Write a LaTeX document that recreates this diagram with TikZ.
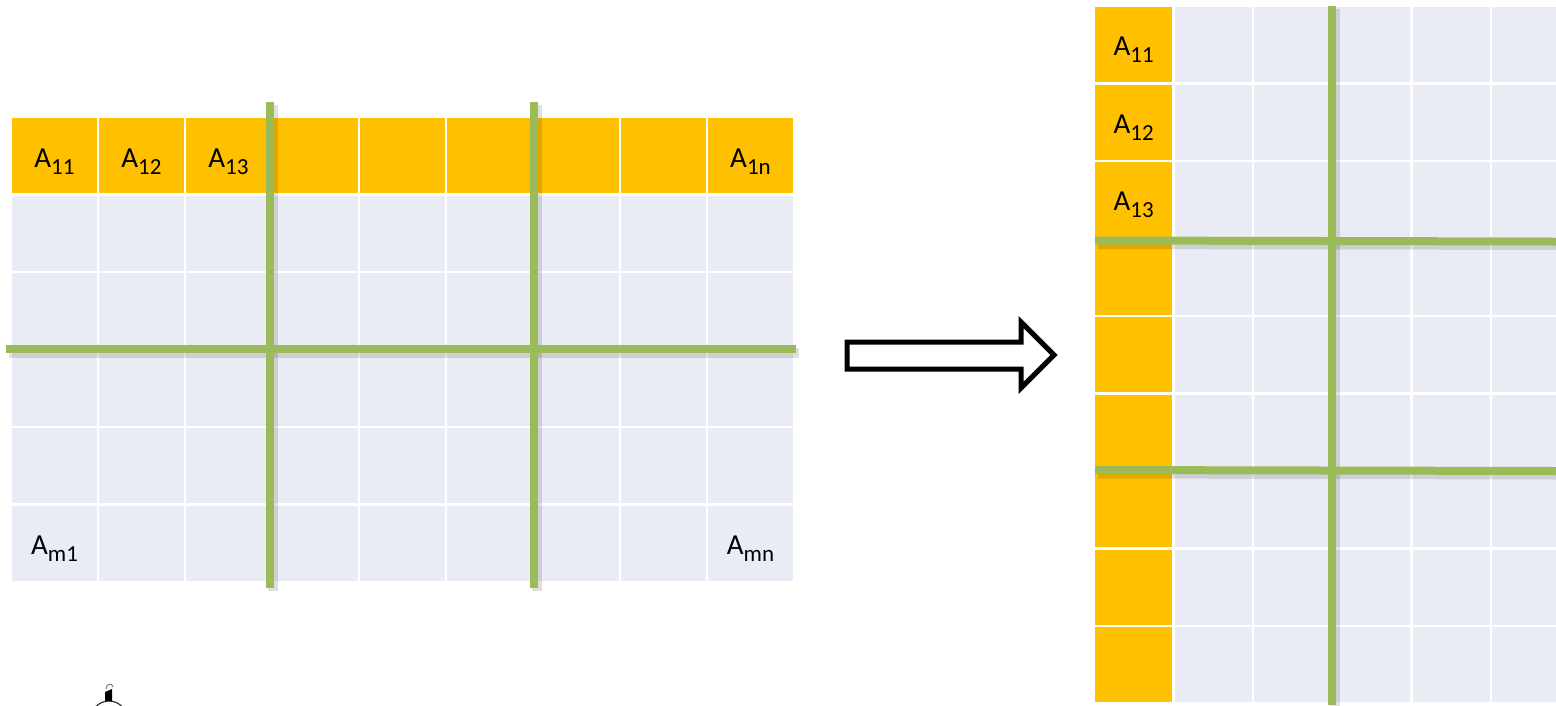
\documentclass[tikz,border=0pt]{standalone}
\usepackage{fontspec}
\setmainfont{Carlito}
\definecolor{gold}{HTML}{FFC000}
\definecolor{cellgray}{HTML}{E9ECF4}
\definecolor{grn}{HTML}{9BBB59}
\newcommand\Asub[1]{A\raisebox{-7pt}{\fontsize{23}{23}\selectfont #1}}
\begin{document}
\begin{tikzpicture}[x=1pt,y=-1pt,
  cellL/.style={minimum width=84.5pt,minimum height=75pt,inner sep=0pt,draw=none,fill=cellgray},
  cellR/.style={minimum width=76.9pt,minimum height=75pt,inner sep=0pt,draw=none,fill=cellgray},
  lab/.style={anchor=base,inner sep=0pt,font=\fontsize{29}{34}\selectfont},
  gline/.style={grn,line width=8pt},
  gshadow/.style={black,opacity=0.12,line width=10pt},
  blockarrow/.style={draw=black,line width=5pt,fill=white,line join=miter}]
\useasboundingbox (0,0) rectangle (1556,705);
\clip (0,0) rectangle (1556,705);
% left table
\foreach \c in {0,...,8}{
  \foreach \r in {0,...,5}{
    \pgfmathsetmacro\cx{11+87*\c+43.5}
    \pgfmathsetmacro\cy{117+77.5*\r+38.75}
    \ifnum\r=0
      \node[cellL,fill=gold] (L-\r-\c) at (\cx,\cy) {};
    \else
      \node[cellL] (L-\r-\c) at (\cx,\cy) {};
    \fi
  }
}
\node[lab] (tL11) at ([yshift=-11.5pt]L-0-0.center) {\Asub{11}};
\node[lab] (tL12) at ([yshift=-11.5pt]L-0-1.center) {\Asub{12}};
\node[lab] (tL13) at ([yshift=-11.5pt]L-0-2.center) {\Asub{13}};
\node[lab] (tL1n) at ([yshift=-11.5pt]L-0-8.center) {\Asub{1n}};
\node[lab] (tLm1) at ([yshift=-11.5pt]L-5-0.center) {\Asub{m1}};
\node[lab] (tLmn) at ([yshift=-11.5pt]L-5-8.center) {\Asub{mn}};
% left green lines
\draw[gshadow] (272.5,105) -- (272.5,591);
\draw[gshadow] (536.5,105) -- (536.5,591);
\draw[gshadow] (9,352.5) -- (799,352.5);
\draw[gline] (270,102) -- (270,588);
\draw[gline] (534,102) -- (534,588);
\draw[gline] (6,349) -- (796,349);
% arrow
\draw[blockarrow] (847,342) -- (1021,342) -- (1021,322) -- (1054,355) -- (1021,388) -- (1021,369) -- (847,369) -- cycle;
% right table
\foreach \c in {0,...,5}{
  \foreach \r in {0,...,8}{
    \pgfmathsetmacro\cx{1094+79.4*\c+39.7}
    \pgfmathsetmacro\cy{6+77.5*\r+38.75}
    \ifnum\c=0
      \node[cellR,fill=gold] (R-\r-\c) at (\cx,\cy) {};
    \else
      \node[cellR] (R-\r-\c) at (\cx,\cy) {};
    \fi
  }
}
\node[lab] (tR11) at ([yshift=-11pt]R-0-0.center) {\Asub{11}};
\node[lab] (tR12) at ([yshift=-11pt]R-1-0.center) {\Asub{12}};
\node[lab] (tR13) at ([yshift=-11pt]R-2-0.center) {\Asub{13}};
% right green lines
\draw[gshadow] (1334.5,9) -- (1334.5,708);
\draw[gshadow] (1098,244) -- (1559,245);
\draw[gshadow] (1098,473.5) -- (1559,474.5);
\draw[gline] (1332,6) -- (1332,705);
\draw[gline] (1095,240.5) -- (1556,241.5);
\draw[gline] (1095,470) -- (1556,471);
% partial icon at bottom left
\draw[black!80,line width=1.2pt] (109,719) circle (18);
\fill[black] (105,692) -- (112,689) -- (112,701) -- (105,701) -- cycle;
\draw[gray,line width=1pt] (106,689) .. controls (106,683) and (113,683) .. (113,687);
\end{tikzpicture}
\end{document}
